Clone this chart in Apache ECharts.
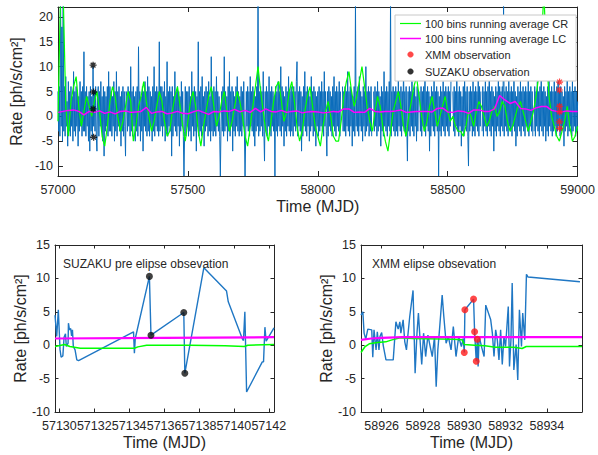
<!DOCTYPE html>
<html>
<head>
<meta charset="utf-8">
<script src="https://cdn.jsdelivr.net/npm/echarts@6/dist/echarts.min.js"></script>
<style>html,body{margin:0;padding:0;background:#fff;}#c{width:598px;height:455px;}</style>
</head>
<body>
<div id="c"></div>
<script>
// ---------- Top panel: long-term light curve (sampled every 2.5 days from 57000) ----------
const lcStart = 57000, lcStep = 2.5;
const lcRate = [
 5,-3,6,-4,25,-2,18,-5,25,-3,6,-4,8,-2,3,-6,7,-3,5,-4,6,-2,4,-5,9,-3,5,-4,6,-2,5,-6,4,-3,7,-2,5,-4,6,-3,
 13,-3,5,-4,6,-2,4,-5,5,-7,6,-3,4,-4,10,-2,5,-3,6,-4,-7,4,6,-4,5,-2,7,-3,4,-5,6,-8,5,-3,4,-2,6,-4,9,-3,
 6,-3,5,-4,4,-2,7,-5,5,-3,9,-4,5,-2,6,-3,4,-6,5,-3,6,-4,5,-2,-8,5,4,-3,6,-2,5,-4,10,-3,5,-4,6,-2,4,-5,
 5,-3,6,-4,14,-2,5,-5,4,-3,6,-7,5,-2,7,-3,5,-4,8,-3,6,-4,5,-2,4,-5,6,-3,10,-4,5,-2,6,-3,5,-4,15,-3,6,-2,
 6,-4,5,-2,7,-5,4,-3,11,-4,5,-2,6,-3,5,-8,6,-4,4,-2,9,-3,5,-4,6,-2,5,-6,4,-3,7,-2,5,-4,-12,-3,6,-4,5,-2,
 5,-4,6,-3,4,-5,9,-2,5,-4,6,-3,5,-7,4,-2,15,-4,5,-3,6,-4,8,-2,4,-6,5,-3,6,-2,5,-4,7,-3,4,-5,12,-3,5,-4,
 6,-3,5,-4,8,-2,5,-3,4,-4,-12,-2,5,-3,6,-4,12,-3,5,-2,4,-5,6,-3,9,-4,5,-2,6,-7,5,-3,4,-4,6,-2,8,-3,5,-4,
 4,-3,6,-4,5,-2,7,-3,-12,-4,5,-2,6,-3,5,-4,8,-2,5,-3,6,-4,5,-6,4,-3,6,-2,24,-4,5,-3,6,-2,5,-4,9,-3,-9,5,
 -3,6,-4,5,-2,8,-3,5,-4,6,-2,5,-3,4,-12,6,-3,5,-4,7,-2,5,-3,10,-4,6,-2,5,-6,4,-3,6,-4,5,-2,8,-3,5,-4,6,
 -3,5,-4,6,-2,5,-3,7,11,-4,5,-2,6,-3,5,-7,4,-4,6,-2,9,-3,5,-4,6,-2,5,-5,4,-3,8,-2,5,-4,6,-3,5,-6,4,-2,
 5,-4,6,-3,5,-2,7,-3,5,-4,9,-2,5,-3,-8,5,-4,6,-2,5,-3,4,-4,6,-2,8,-3,5,-4,6,-2,5,-3,7,-4,5,null,null,6,-3,
 5,-3,6,-4,5,-2,9,-3,5,-4,6,-2,5,-6,4,-3,6,-4,23,-2,5,-3,6,-4,8,-2,5,-3,4,-5,6,-2,5,-4,10,-3,5,-2,6,-4,
 5,-3,6,-4,null,null,5,-3,6,-2,5,-4,7,-3,5,-2,4,-6,6,-3,5,-4,9,-2,5,-3,6,-4,5,-2,7,-3,23,-4,5,-2,6,-3,5,-4,
 6,-3,5,-4,8,-2,5,-3,6,-4,5,-2,10,-3,5,-4,6,-2,-9,5,-3,6,-4,5,-2,7,-3,5,-4,6,-2,4,-5,6,-3,5,null,5,-3,6,
 -4,5,-2,6,-3,9,-4,5,-2,6,-3,5,-7,4,-4,6,-2,5,-3,8,-4,5,-2,6,-3,5,-12,4,-3,6,-4,5,-2,7,-3,5,-4,6,-2,5,
 -3,6,-4,5,-2,7,null,null,5,-3,6,-4,5,-2,9,-3,5,-4,6,-2,5,-6,4,-3,6,-4,8,-2,5,-3,6,-4,-10,5,-3,6,-2,5,-4,7,
 -3,5,-4,6,-2,5,-3,8,-4,6,-2,5,null,-3,6,-4,5,-2,7,-3,5,-4,6,-2,10,-3,5,-4,6,-2,5,-7,4,-3,6,-4,5,-2,8,-3,
 6,-4,5,-2,6,-3,23,-4,5,-2,6,-3,5,-4,8,-2,5,-3,6,-4,5,-2,9,-3,5,-6,4,-4,6,-2,5,-3,7,-4,5,-2,6,-3,5,-4,
 6,-2,5,-3,8,-4,5,-2,6,-3,5,-4,null,-3,6,-4,5,-2,7,-3,5,-4,6,-2,9,-3,5,-4,6,-2,5,-5,4,-3,6,-4,8,-2,5,-3,
 6,-4,5,-3,7,-2,5,-4,6,-3,9,-2,5,-4,6,-3,5,-2,4,-6,6,-3,5,-2,8,-4,5,-3,6,-2,5,-4,7,-3,5,-2,6,-4,5,-3,
 3
];
// 100 bins running average CR (every 10 days from 57000)
const crStart = 57000, crStep = 10;
const crAvg = [
 -1,25,25,2,-4,3,6,8,2,-2, 1,4,2,0,3,5,1,-4,-6,-2,
 3,6,4,0,-3,-1,2,5,3,-5, -2,2,4,7,3,0,-3,-1,2,5,
 3,-1,-4,-3,1,4,6,2,-2,-5, -1,3,5,2,-3,-6,-2,1,4,6,
 2,-2,0,3,5,1,-3,-1,2,5, 3,0,-4,-6,-2,2,6,10,5,1,
 -3,-5,-1,3,6,7,3,-1,1,5, 7,3,-2,-5,-3,1,4,6,2,-2,
 -4,-6,-2,1,3,0,-4,-5,-5,-1, 4,7,9,5,2,4,7,10,6,2,
 -1,-3,1,4,2,-2,-5,-7,-3,1, 3,5,2,-2,-4,0,3,6,8,4,
 0,-3,-1,2,4,1,-2,0,2,4, 1,-1,0,-2,-3,-3,-4,-2,1,0,
 -2,1,3,2,0,-2,-1,1,2,0, 1,3,2,-1,-3,-2,0,2,3,1,
 -1,-3,-1,1,4,8,14,25,12,4, 0,-2,-4,-5,-3,-1,2,-2,-5,-4,
 -2
];
// 100 bins running average LC (every 20 days from 57000)
const lcAvgStart = 57000, lcAvgStep = 20;
const lcAvg = [
 0.8,1.0,1.2,1.3,1.0,0.3,1.0,0.8,1.1,0.6,0.9,0.5,1.0,1.1,0.8,0.9,1.0,1.8,0.6,0.9,
 1.0,0.5,0.7,1.0,0.6,0.5,0.9,1.2,0.8,0.4,1.0,0.9,1.1,1.0,1.4,0.9,1.2,0.8,1.6,0.9,
 1.5,1.0,0.9,1.2,0.8,1.0,1.1,0.7,0.9,1.0,
 0.9,0.7,0.8,1.0,0.9,1.5,1.5,0.8,0.9,0.8,1.6,1.0,0.9,1.0,1.0,1.1,1.3,0.8,0.9,1.0,
 1.0,1.0,0.9,1.6,1.7,0.9,0.8,1.1,1.0,0.6,1.3,1.3,1.0,1.0,1.5,
 4.2,3.3,2.6,3.0,1.6,1.5,1.2,1.7,2.0,2.0,1.2,1.0,0.9,1.1,1.0,
 1.0
];
// Observations
const xmmT = [58930.0, 58930.03, 58930.45, 58930.5, 58930.58, 58930.63];
const xmmR = [-1.1, 5.3, 6.9, 2.0, -2.4, 0.9];
const suzT = [57135.16, 57135.25, 57137.13, 57137.19];
const suzR = [10.3, 1.5, 4.9, -4.2];

// ---------- Bottom left: SUZAKU pre elipse ----------
const suzLcT = [57129.75,57129.85,57129.94,57130.04,57130.1,57130.2,57130.27,57130.35,57130.4,57130.5,
 57130.52,57130.58,57130.65,57130.7,57130.75,57130.8,57130.9,57131.0,57131.1,57134.25,57134.3,57134.35,
 57135.16,57135.25,57137.13,57137.19,57138.28,57139.58,57139.68,57140.48,57140.55,57140.63,57140.73,
 57141.63,57141.7,57141.78,57141.85,57142.3];
const suzLcR = [4.5,1.3,5.3,-0.7,-1.8,-1.6,1.2,1.7,-0.2,0.3,
 3.3,2.3,2.5,1.4,2.3,-0.2,-0.7,-2.2,-2.3,2.0,-1.2,1.0,
 10.3,1.5,4.9,-4.2,11.6,8.1,6.5,1.0,0.7,5.0,-7.0,
 -2.5,-2.5,2.7,0.6,2.6];
const suzCrT = [57129.75,57130.3,57130.6,57131.2,57134.3,57134.5,57135.0,57137.5,57139.5,57140.6,57140.8,57142.3];
const suzCrR = [-0.2,0.1,-0.2,-0.45,-0.45,-0.25,0.0,0.0,-0.1,-0.2,0.0,0.1];
const suzLcAvgT = [57129.75, 57136.0, 57142.3];
const suzLcAvgR = [1.0, 1.1, 1.2];

// ---------- Bottom right: XMM elipse ----------
const xmmLcT = [58925.0,58925.09,58925.15,58925.23,58925.33,58925.52,58925.57,58925.63,58925.73,58925.79,
 58925.87,58925.92,58926.0,58926.08,58926.21,58926.56,58926.69,58926.8,58926.88,58926.93,
 58927.04,58927.12,58927.2,58927.36,58927.52,58927.62,58927.71,58927.78,58927.87,58927.94,
 58928.03,58928.13,58928.24,58928.35,58928.45,58928.56,58928.64,58928.72,58928.8,58928.93,
 58929.01,58929.12,58929.23,58929.36,58929.47,58929.6,58929.73,58929.86,58929.95,58930.0,
 58930.03,58930.45,58930.5,58930.58,58930.63,58930.67,58930.72,58930.85,58930.96,58931.04,
 58931.28,58931.36,58931.44,58931.52,58931.6,58931.68,58931.76,58931.84,58931.92,58932.0,
 58932.13,58932.19,58932.26,58932.32,58932.4,58932.51,58932.59,58932.67,58932.77,58932.83,
 58932.93,58933.01,58933.09,58935.6];
const xmmLcR = [4.5,5.0,1.8,0.9,2.4,2.3,-1.8,2.3,-0.7,2.0,
 -0.7,1.3,1.9,-0.1,-2.2,-2.2,3.5,2.4,3.5,1.8,
 3.8,0.5,-0.7,4.3,8.2,-4.2,1.8,4.8,0.3,-2.9,
 1.8,-1.7,1.5,-0.2,-1.7,1.3,-6.2,-0.7,2.3,7.5,
 4.3,0.3,1.3,-0.7,2.8,-1.7,1.3,-0.2,1.0,-1.1,
 5.3,6.9,2.0,-2.4,0.9,-3.2,1.3,-0.4,-1.7,6.0,
 3.8,1.8,-1.7,2.3,0.8,-2.2,2.3,-2.9,1.3,-0.2,
 5.8,-3.2,0.8,9.3,-3.7,0.1,-5.2,5.3,-0.2,4.8,
 0.8,10.6,10.2,9.5];
const xmmCrT = [58925.0,58925.2,58925.4,58925.8,58926.2,58926.5,58926.9,58927.5,58929.5,58929.9,58930.0,58930.5,58931.0,58931.5,58932.4,58932.8,58933.0,58935.7];
const xmmCrR = [-1.1,-0.2,0.2,0.4,0.5,0.8,1.1,1.0,0.9,0.8,0.1,0.0,-0.1,-0.3,-0.3,-0.5,-0.2,-0.2];
const xmmLcAvgT = [58925.0,58925.5,58926.0,58927.0,58935.7];
const xmmLcAvgR = [0.8,1.0,1.1,1.2,1.2];

// ---------- Tick labels ----------
const topXTicks = [57000, 57500, 58000, 58500, 59000];
const topYTicks = [-10, -5, 0, 5, 10, 15, 20];
const suzXTicks = [57130, 57132, 57134, 57136, 57138, 57140, 57142];
const xmmXTicks = [58926, 58928, 58930, 58932, 58934];
const botYTicks = [-10, -5, 0, 5, 10, 15];

// ---------- helpers ----------
const FONT = "'Liberation Sans', Arial, Helvetica, sans-serif";
const AX = '#262626';
const pairsGrid = (start, step, arr) => arr.map((v, i) => [start + i * step, v]);
const pairs = (t, r) => t.map((v, i) => [v, r[i]]);

function xAx(grid, min, max, ticks, pos, tickLen, name) {
  const show = pos === 'bottom';
  return {
    type: 'value', gridIndex: grid, min: min, max: max, position: pos,
    splitLine: {show: false},
    axisLine: {show: true, onZero: false, lineStyle: {color: AX, width: 1}},
    axisTick: {show: true, inside: true, length: tickLen, customValues: ticks, lineStyle: {color: AX}},
    axisLabel: {show: show, customValues: ticks, margin: 7, color: AX, fontSize: 12.5, fontFamily: FONT,
      formatter: v => String(v)},
    name: show ? name : '', nameLocation: 'middle', nameGap: 22,
    nameTextStyle: {fontSize: 16, color: AX, fontFamily: FONT}
  };
}
function yAx(grid, min, max, ticks, pos, tickLen, name) {
  const show = pos === 'left';
  return {
    type: 'value', gridIndex: grid, min: min, max: max, position: pos,
    splitLine: {show: false},
    axisLine: {show: true, onZero: false, lineStyle: {color: AX, width: 1}},
    axisTick: {show: true, inside: true, length: tickLen, customValues: ticks, lineStyle: {color: AX}},
    axisLabel: {show: show, customValues: ticks, margin: 5, color: AX, fontSize: 12.5, fontFamily: FONT,
      formatter: v => String(v)},
    name: show ? name : '', nameLocation: 'middle', nameGap: 27,
    nameTextStyle: {fontSize: 16, color: AX, fontFamily: FONT}
  };
}
const YNAME = 'Rate [ph/s/cm\u00B2]';
const XNAME = 'Time (MJD)';
const ASTER = 'path://M0,5L10,5M5,0L5,10M1.6,1.6L8.4,8.4M1.6,8.4L8.4,1.6';
const ASTER_LEG = 'path://M-4,-4L-3.99,-4M14,14L14.01,14M0,5L10,5M5,0L5,10M1.6,1.6L8.4,8.4M1.6,8.4L8.4,1.6';
const LINE_THIN = 'path://M0,0L210,0L210,12L0,12Z';
const LINE_THICK = 'path://M0,0L140,0L140,10L0,10Z';

const chart = echarts.init(document.getElementById('c'), null, {renderer: 'svg'});
chart.setOption({
  animation: false,
  backgroundColor: '#fff',
  textStyle: {fontFamily: FONT},
  title: [
    {text: 'SUZAKU pre elipse obsevation', left: 63, top: 258, padding: 0,
     textStyle: {fontSize: 12, fontWeight: 'normal', color: AX, fontFamily: FONT}},
    {text: 'XMM elipse obsevation', left: 372, top: 258, padding: 0,
     textStyle: {fontSize: 12, fontWeight: 'normal', color: AX, fontFamily: FONT}}
  ],
  grid: [
    {left: 55, top: 7, width: 527, height: 169},
    {left: 55, top: 245, width: 219, height: 167},
    {left: 361, top: 245, width: 221, height: 167}
  ],
  legend: {
    data: [
      {name: '100 bins running average CR', icon: LINE_THIN},
      {name: '100 bins running average LC', icon: LINE_THICK},
      {name: 'XMM observation', icon: ASTER_LEG},
      {name: 'SUZAKU observation', icon: ASTER_LEG}
    ],
    orient: 'vertical', left: 395, top: 15,
    padding: [3, 8, 3, 5], itemGap: 4, itemWidth: 21, itemHeight: 11,
    backgroundColor: '#fff', borderColor: '#c8c8c8', borderWidth: 1,
    textStyle: {fontSize: 11, color: AX, fontFamily: FONT, padding: [0, 0, 0, -1]},
    selectedMode: false
  },
  xAxis: [
    xAx(0, 57000, 59000, topXTicks, 'bottom', 5, XNAME),
    xAx(0, 57000, 59000, topXTicks, 'top', 5, ''),
    xAx(1, 57129.75, 57142.3, suzXTicks, 'bottom', 3.5, XNAME),
    xAx(1, 57129.75, 57142.3, suzXTicks, 'top', 3.5, ''),
    xAx(2, 58925.0, 58935.7, xmmXTicks, 'bottom', 3.5, XNAME),
    xAx(2, 58925.0, 58935.7, xmmXTicks, 'top', 3.5, '')
  ],
  yAxis: [
    yAx(0, -12, 22, topYTicks, 'left', 5, YNAME),
    yAx(0, -12, 22, topYTicks, 'right', 5, ''),
    yAx(1, -10, 15, botYTicks, 'left', 3.5, YNAME),
    yAx(1, -10, 15, botYTicks, 'right', 3.5, ''),
    yAx(2, -10, 15, botYTicks, 'left', 3.5, YNAME),
    yAx(2, -10, 15, botYTicks, 'right', 3.5, '')
  ],
  series: [
    // top panel
    {name: 'Light curve', type: 'line', xAxisIndex: 0, yAxisIndex: 0, data: pairsGrid(lcStart, lcStep, lcRate),
     showSymbol: false, symbol: 'none', connectNulls: false, lineStyle: {color: '#0b6cbb', width: 1.0}, z: 2},
    {name: '100 bins running average CR', type: 'line', xAxisIndex: 0, yAxisIndex: 0, data: pairsGrid(crStart, crStep, crAvg),
     symbol: 'none', showSymbol: false, color: '#00ff00', lineStyle: {color: '#00ff00', width: 1.2}, z: 3},
    {name: '100 bins running average LC', type: 'line', xAxisIndex: 0, yAxisIndex: 0, data: pairsGrid(lcAvgStart, lcAvgStep, lcAvg),
     symbol: 'none', showSymbol: false, color: '#ff00ff', lineStyle: {color: '#ff00ff', width: 1.5}, z: 4},
    {name: 'XMM observation', type: 'scatter', xAxisIndex: 0, yAxisIndex: 0, data: pairs(xmmT, xmmR),
     symbol: ASTER, symbolSize: 7, itemStyle: {color: '#ff1a1a', borderColor: '#ff1a1a', borderWidth: 1.2}, z: 6},
    {name: 'SUZAKU observation', type: 'scatter', xAxisIndex: 0, yAxisIndex: 0, data: pairs(suzT, suzR),
     symbol: ASTER, symbolSize: 7, itemStyle: {color: '#000', borderColor: '#000', borderWidth: 1.3}, z: 6},
    // bottom left
    {name: 'suz-lc', type: 'line', xAxisIndex: 2, yAxisIndex: 2, data: pairs(suzLcT, suzLcR),
     symbol: 'none', lineStyle: {color: '#1f77c4', width: 1.4}, z: 2},
    {name: 'suz-cr', type: 'line', xAxisIndex: 2, yAxisIndex: 2, data: pairs(suzCrT, suzCrR),
     symbol: 'none', lineStyle: {color: '#00ff00', width: 1.5}, z: 3},
    {name: 'suz-lcavg', type: 'line', xAxisIndex: 2, yAxisIndex: 2, data: pairs(suzLcAvgT, suzLcAvgR),
     symbol: 'none', lineStyle: {color: '#ff00ff', width: 2.2}, z: 3},
    {name: 'suz-obs', type: 'scatter', xAxisIndex: 2, yAxisIndex: 2, data: pairs(suzT, suzR),
     symbol: 'circle', symbolSize: 7, itemStyle: {color: '#111'}, z: 5},
    // bottom right
    {name: 'xmm-lc', type: 'line', xAxisIndex: 4, yAxisIndex: 4, data: pairs(xmmLcT, xmmLcR),
     symbol: 'none', lineStyle: {color: '#1f77c4', width: 1.4}, z: 2},
    {name: 'xmm-cr', type: 'line', xAxisIndex: 4, yAxisIndex: 4, data: pairs(xmmCrT, xmmCrR),
     symbol: 'none', lineStyle: {color: '#00ff00', width: 1.5}, z: 3},
    {name: 'xmm-lcavg', type: 'line', xAxisIndex: 4, yAxisIndex: 4, data: pairs(xmmLcAvgT, xmmLcAvgR),
     symbol: 'none', lineStyle: {color: '#ff00ff', width: 2.2}, z: 3},
    {name: 'xmm-obs', type: 'scatter', xAxisIndex: 4, yAxisIndex: 4, data: pairs(xmmT, xmmR),
     symbol: 'circle', symbolSize: 7, itemStyle: {color: '#ff1a1a'}, z: 5}
  ]
});
</script>
</body>
</html>
